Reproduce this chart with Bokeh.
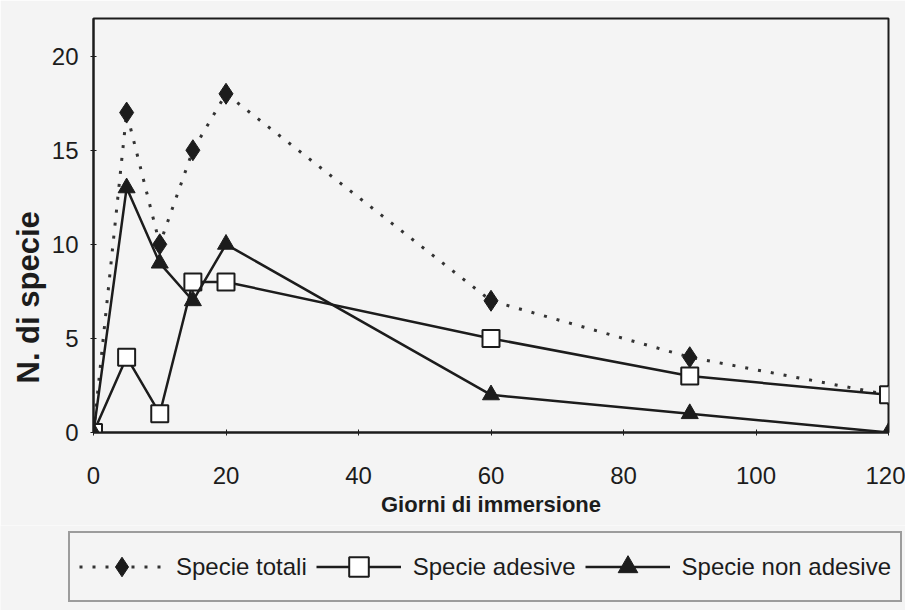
from bokeh.plotting import figure
from bokeh.models import Range1d, Legend, LegendItem, Title, FixedTicker
from bokeh.layouts import column
from bokeh.embed import file_html
from bokeh.resources import INLINE

# --- data ---
giorni = [0, 5, 10, 15, 20, 60, 90, 120]
specie_totali = [0, 17, 10, 15, 18, 7, 4, 2]
specie_adesive = [0, 4, 1, 8, 8, 5, 3, 2]
specie_non_adesive = [0, 13, 9, 7, 10, 2, 1, 0]
x_ticks = [0, 20, 40, 60, 80, 100, 120]
y_ticks = [0, 5, 10, 15, 20]
legend_labels = ["Specie totali", "Specie adesive", "Specie non adesive"]

BG = "#f4f4f4"
INK = "#1c1c1c"
FONT = "Liberation Sans"

p = figure(width=905, height=525, output_backend="svg", toolbar_location=None,
           x_range=Range1d(0, 120), y_range=Range1d(0, 22),
           min_border_left=93, min_border_right=17, min_border_top=18,
           min_border_bottom=93)
p.background_fill_color = BG
p.border_fill_color = BG
p.outline_line_color = INK
p.outline_line_width = 2
p.grid.visible = False

for ax in (p.xaxis[0], p.yaxis[0]):
    ax.axis_line_color = INK
    ax.axis_line_width = 2
    ax.major_tick_line_color = INK
    ax.major_tick_in = 3
    ax.major_tick_out = 3
    ax.minor_tick_line_color = None
    ax.major_label_text_font = FONT
    ax.major_label_text_font_size = "24px"
    ax.major_label_text_color = INK

p.xaxis.ticker = FixedTicker(ticks=x_ticks)
p.yaxis.ticker = FixedTicker(ticks=y_ticks)
p.xaxis.major_label_standoff = 31
p.yaxis.major_label_standoff = 12
p.xaxis.axis_label = "Giorni di immersione"
p.xaxis.axis_label_text_font = FONT
p.xaxis.axis_label_text_font_style = "bold"
p.xaxis.axis_label_text_font_size = "22px"
p.xaxis.axis_label_text_color = INK
p.xaxis.axis_label_standoff = 5

ytitle = Title(text="N. di specie", align="left", offset=49,
               text_font=FONT, text_font_style="bold",
               text_font_size="31px", text_color=INK, standoff=6)
p.add_layout(ytitle, "left")


def draw(fig, xs, tot, ade, non):
    r = []
    r.append(fig.line(xs, tot, line_color="#333333", line_width=3, line_dash="3 10"))
    r.append(fig.scatter(xs, tot, marker="diamond", size=21,
                         fill_color=INK, line_color=INK))
    r.append(fig.line(xs, ade, line_color=INK, line_width=2.5))
    r.append(fig.scatter(xs, ade, marker="square", size=17,
                         fill_color="white", line_color=INK, line_width=2))
    r.append(fig.line(xs, non, line_color=INK, line_width=2.5))
    r.append(fig.scatter(xs, non, marker="triangle", size=17,
                         fill_color=INK, line_color=INK))
    return r


draw(p, giorni, specie_totali, specie_adesive, specie_non_adesive)

# --- legend strip: a separate figure below; its renderers use the same data
# but its ranges keep them out of view, so only the legend shows ---
q = figure(width=905, height=85, output_backend="svg", toolbar_location=None,
           x_range=Range1d(-20, -10), y_range=Range1d(-20, -10),
           min_border=0, x_axis_type=None, y_axis_type=None)
q.frame_align = False
q.background_fill_color = BG
q.border_fill_color = BG
q.outline_line_color = None
q.grid.visible = False
rr = draw(q, giorni, specie_totali, specie_adesive, specie_non_adesive)

legend = Legend(items=[
    LegendItem(label=legend_labels[0], renderers=[rr[0], rr[1]]),
    LegendItem(label=legend_labels[1], renderers=[rr[2], rr[3]]),
    LegendItem(label=legend_labels[2], renderers=[rr[4], rr[5]]),
], orientation="horizontal", location=(68, 8))
legend.margin = 0
legend.padding = 9
legend.spacing = 9
legend.glyph_width = 85
legend.glyph_height = 49
legend.label_height = 49
legend.label_standoff = 12
legend.label_text_font = FONT
legend.label_text_font_size = "24px"
legend.label_text_color = INK
legend.border_line_color = "#444444"
legend.border_line_width = 2
legend.background_fill_color = BG
legend.background_fill_alpha = 1
q.add_layout(legend)

# smaller markers inside the legend only
for r in rr:
    if hasattr(r.glyph, "size"):
        r.glyph.size = 14

layout = column(p, q, spacing=0)
open("out.html", "w").write(file_html(layout, INLINE))
